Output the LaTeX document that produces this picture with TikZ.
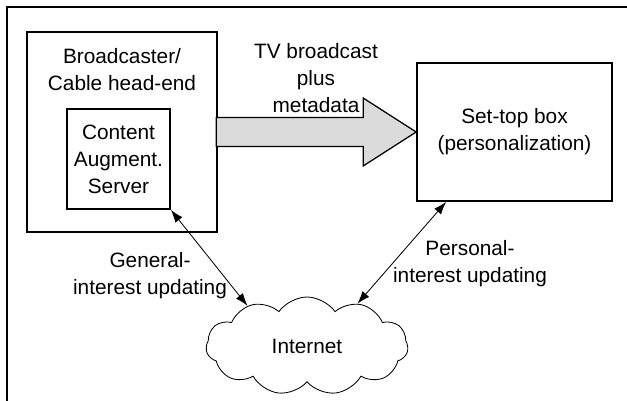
\documentclass[tikz,border=0pt]{standalone}
\usepackage{fontspec}
\setmainfont{Liberation Sans}
\usepackage{tikz}
\usetikzlibrary{shapes,shapes.symbols,arrows.meta}

\begin{document}
\begin{tikzpicture}[
	box/.style={draw, line width=1.2pt, minimum width=1cm, minimum height=1cm, inner sep=0, align=center},
	lbl/.style={font=\fontsize{14.8}{19.2}\selectfont, inner sep=0, align=center},
	link/.style={{Latex[length=3.2mm,width=2.2mm]}-{Latex[length=3.2mm,width=2.2mm]}, line width=0.6pt},
	feed/.style={draw, line width=0.9pt, fill=gray!28, line join=miter}
]
\useasboundingbox (0,0) rectangle (15.675,-10.025);
% open frame, top and left only
\draw[line width=1.4pt] (0.167,-10.025) -- (0.167,-0.167) -- (15.675,-0.167);

%head-end with its server
\node[box, minimum width=4.75cm, minimum height=5cm] (bcast) at (3.05,-3.3) {};
\node[lbl, anchor=north] (bcasttxt) at (3.05,-1.2) {Broadcaster/\\Cable head-end};
\node[box, lbl, minimum width=2.575cm, minimum height=2.5cm] (cas) at (2.9625,-3.975) {Content\\Augment.\\Server};

\node[box, lbl, minimum width=4.875cm, minimum height=3.45cm] (stb) at (12.8625,-3.3) {Set-top box\\(personalization)};

\node[cloud, draw, lbl, line width=0.6pt, cloud puffs=11, cloud puff arc=110, cloud ignores aspect, minimum width=5.05cm, minimum height=2.45cm] (inet) at (7.675,-8.65) {Internet};

% broadcast feed, block arrow into the set-top box
\draw[feed] (stb.west) -- ++(-1.325,0.85) -- ++(0,-0.4875) -- ++(-3.675,0) -- ++(0,-0.725)
	-- ++(3.675,0) -- ++(0,-0.4875) -- cycle;
\node[lbl] (tvtxt) at (7.9,-1.95) {TV broadcast\\plus\\metadata};

\node[lbl] (gen) at (3.75,-6.9) {General-\\interest updating};
\node[lbl] (pers) at (11.75,-6.6) {Personal-\\interest updating};

\draw[link] (cas.south east) -- (inet.146);
\draw[link] ([xshift=0.75cm]stb.south west) -- (inet.40);
\end{tikzpicture}
\end{document}
